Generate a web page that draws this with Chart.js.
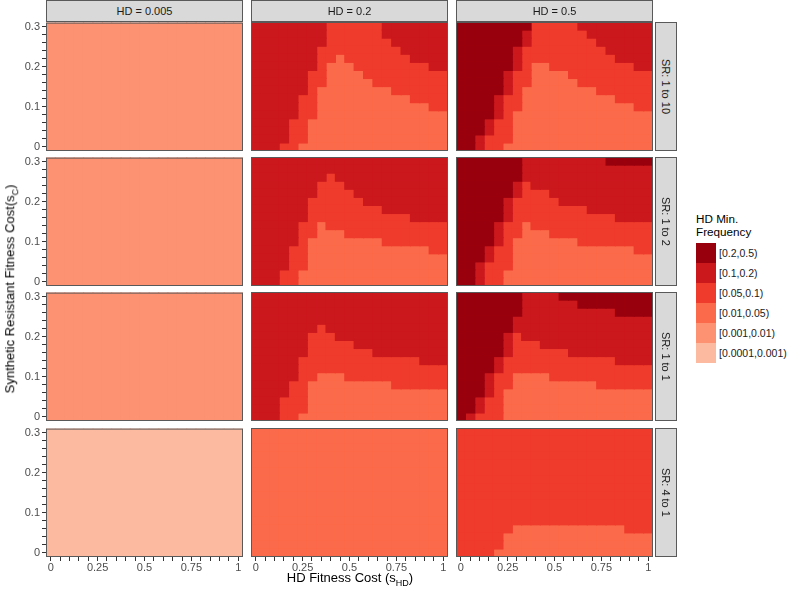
<!DOCTYPE html>
<html>
<head>
<meta charset="utf-8">
<script src="https://cdn.jsdelivr.net/npm/chart.js@4/dist/chart.umd.min.js"></script>
<style>
  body { margin: 0; background: #fff; }
  #stage { position: relative; width: 787px; height: 593px; overflow: hidden; font-family: "Liberation Sans", Arial, sans-serif; }
  #stage canvas { position: absolute; }
  .strip { position: absolute; box-sizing: border-box; background: #d9d9d9; border: 1px solid #595959;
           font-size: 11px; color: #1a1a1a; display: flex; align-items: center; justify-content: center;
           white-space: nowrap; z-index: 2; }
  .strip.side { writing-mode: vertical-rl; }
  .title { position: absolute; font-size: 13px; color: #000; white-space: nowrap; z-index: 2; }
  .title sub { font-size: 9px; }
  #legend { position: absolute; left: 696px; top: 212px; z-index: 2; }
  #legend .lt { font-size: 11.7px; line-height: 13px; margin-bottom: 5px; }
  #legend .row { display: flex; align-items: center; height: 20px; }
  #legend .key { width: 20px; height: 20px; margin-right: 3px; }
  #legend .lab { font-size: 10.5px; color: #1a1a1a; white-space: nowrap; }
</style>
</head>
<body>
<div id="stage"></div>
<script>
// facet labels
const hdCols = ['HD = 0.005', 'HD = 0.2', 'HD = 0.5'];
const srRows = ['SR: 1 to 10', 'SR: 1 to 2', 'SR: 1 to 1', 'SR: 4 to 1'];

// HD min. frequency classes and their fill colours
const levels = ['[0.2,0.5)', '[0.1,0.2)', '[0.05,0.1)', '[0.01,0.05)', '[0.001,0.01)', '[0.0001,0.001)'];
const levelColors = ['#99000d', '#cb181d', '#ef3b2c', '#fb6a4a', '#fc9272', '#fcbba1'];

// grid values: s_HD along x, s_C along y
const xLabels = ['0', '0.05', '0.1', '0.15', '0.2', '0.25', '0.3', '0.35', '0.4', '0.45', '0.5',
                 '0.55', '0.6', '0.65', '0.7', '0.75', '0.8', '0.85', '0.9', '0.95', '1'];
const xTickText = ['0', '', '', '', '', '0.25', '', '', '', '', '0.5', '', '', '', '', '0.75', '', '', '', '', '1'];
const yVals = [0, 0.02, 0.04, 0.06, 0.08, 0.1, 0.12, 0.14, 0.16, 0.18, 0.2, 0.22, 0.24, 0.26, 0.28, 0.3];
const yTickText = ['0', '', '', '', '', '0.1', '', '', '', '', '0.2', '', '', '', '', '0.3'];

// class index per cell (digit = index into levels); rows listed top (s_C = 0.3) to bottom (s_C = 0)
const hd0005_sr10 = Array(16).fill('444444444444444444444');
const hd0005_sr2  = Array(16).fill('444444444444444444444');
const hd0005_sr1  = Array(16).fill('444444444444444444444');
const hd0005_sr4  = Array(16).fill('555555555555555555555');

const hd02_sr10 = [
  '111111112222221111111',
  '111111112222221111111',
  '111111112222222111111',
  '111111122222222211111',
  '111111122322222221111',
  '111111123332222222211',
  '111111223333222222222',
  '111111223333322222222',
  '111111233333333222222',
  '111112233333333332222',
  '111112233333333333322',
  '111112233333333333333',
  '111122333333333333333',
  '111122333333333333333',
  '111122333333333333333',
  '111223333333333333333'
];
const hd05_sr10 = [
  '000000002222211111111',
  '000000012222221111111',
  '000000012222222111111',
  '000000122222222211111',
  '000000122222222221111',
  '000000123322222222211',
  '000001223333222222222',
  '000001223333322222222',
  '000001233333333222222',
  '000012233333333332222',
  '000012233333333333322',
  '000012333333333333333',
  '000122333333333333333',
  '000122333333333333333',
  '001222333333333333333',
  '001223333333333333333'
];
const hd02_sr2 = [
  '111111111111111111111',
  '111111111111111111111',
  '111111112111111111111',
  '111111122211111111111',
  '111111122221111111111',
  '111111222222111111111',
  '111111222222221111111',
  '111111222222222221111',
  '111112232222222222222',
  '111112233322222222222',
  '111112333333332222222',
  '111122333333333333322',
  '111122333333333333333',
  '111122333333333333333',
  '111223333333333333333',
  '111223333333333333333'
];
const hd05_sr2 = [
  '000000011111111100000',
  '000000011111111111111',
  '000000011111111111111',
  '000000121111111111111',
  '000000122211111111111',
  '000001222221111111111',
  '000001222222221111111',
  '000001222222222221111',
  '000012232222222222222',
  '000012233322222222222',
  '000012333333322222222',
  '000122333333333333322',
  '000122333333333333333',
  '001222333333333333333',
  '001223333333333333333',
  '001223333333333333333'
];
const hd02_sr1 = [
  '111111111111111111111',
  '111111111111111111111',
  '111111111111111111111',
  '111111111111111111111',
  '111111121111111111111',
  '111111222111111111111',
  '111111222221111111111',
  '111111222222211111111',
  '111112222222222222111',
  '111112222222222222222',
  '111112233322222222222',
  '111122333333333222222',
  '111122333333333333333',
  '111222333333333333333',
  '111222333333333333333',
  '111223333333333333333'
];
const hd05_sr1 = [
  '000000011110000000000',
  '000000011111100000000',
  '000000011111111110000',
  '000000111111111111111',
  '000000111111111111111',
  '000001211111111111111',
  '000001222111111111111',
  '000001222222111111111',
  '000012222222222221111',
  '000012222222222222222',
  '000122333322222222222',
  '000122333333333222222',
  '000123333333333333333',
  '001223333333333333333',
  '001223333333333333333',
  '012223333333333333333'
];
const hd02_sr4 = Array(16).fill('333333333333333333333');
const hd05_sr4 = [
  '222222222222222222222',
  '222222222222222222222',
  '222222222222222222222',
  '222222222222222222222',
  '222222222222222222222',
  '222222222222222222222',
  '222222222222222222222',
  '222222222222222222222',
  '222222222222222222222',
  '222222222222222222222',
  '222222222222222222222',
  '222222222222222222222',
  '222222333333333333222',
  '222223333333333333333',
  '222223333333333333333',
  '222233333333333333333'
];

const panels = [
  [hd0005_sr10, hd02_sr10, hd05_sr10],
  [hd0005_sr2,  hd02_sr2,  hd05_sr2],
  [hd0005_sr1,  hd02_sr1,  hd05_sr1],
  [hd0005_sr4,  hd02_sr4,  hd05_sr4]
];

// layout of the facet grid
const panelLefts = [46, 251, 456];
const panelTops = [22, 157, 292, 428];
const panelW = 197, panelH = 129;
const L = 46, T = 8, R = 8, B = 26;

const stage = document.getElementById('stage');
const tickFont = { family: '"Liberation Sans", Arial, sans-serif', size: 11 };

const panelBorder = {
  id: 'panelBorder',
  afterDatasetsDraw(chart) {
    const { ctx, chartArea: a } = chart;
    ctx.save();
    ctx.strokeStyle = '#595959';
    ctx.lineWidth = 1;
    ctx.strokeRect(a.left + 0.5, a.top + 0.5, a.width - 1, a.height - 1);
    ctx.restore();
  }
};

function makePanel(grid, left, top, showX, showY) {
  const canvas = document.createElement('canvas');
  canvas.width = panelW + L + R;
  canvas.height = panelH + T + B;
  canvas.style.left = (left - L) + 'px';
  canvas.style.top = (top - T) + 'px';
  stage.appendChild(canvas);

  const datasets = levels.map((lab, c) => ({
    label: lab,
    data: [],
    backgroundColor: levelColors[c],
    borderWidth: 0,
    inflateAmount: 0.6
  }));
  grid.forEach((row, r) => {
    const y = yVals[yVals.length - 1 - r];
    for (let i = 0; i < row.length; i++) {
      datasets[+row[i]].data.push({ x: xLabels[i], y: [y - 0.01, y + 0.01] });
    }
  });

  new Chart(canvas, {
    type: 'bar',
    data: { labels: xLabels, datasets: datasets },
    options: {
      responsive: false,
      animation: false,
      layout: { padding: { left: showY ? 0 : L, top: T, right: R, bottom: showX ? 0 : B } },
      datasets: { bar: { grouped: false, barPercentage: 1, categoryPercentage: 1 } },
      plugins: { legend: { display: false }, tooltip: { enabled: false } },
      scales: {
        x: {
          display: showX,
          offset: true,
          border: { display: false },
          grid: { offset: false, drawOnChartArea: false, color: '#333333', tickLength: 4 },
          ticks: { autoSkip: false, maxRotation: 0, padding: 0, color: '#4d4d4d', font: tickFont,
                   callback: (v, i) => xTickText[i] },
          afterFit: s => { if (showX) s.height = B; }
        },
        y: {
          display: showY,
          min: -0.01,
          max: 0.31,
          afterBuildTicks: s => { s.ticks = yVals.map(v => ({ value: v })); },
          border: { display: false },
          grid: { drawOnChartArea: false, color: '#333333', tickLength: 4 },
          ticks: { autoSkip: false, padding: 2, color: '#4d4d4d', font: tickFont,
                   callback: (v, i) => yTickText[i] },
          afterFit: s => { if (showY) s.width = L; }
        }
      }
    },
    plugins: [panelBorder]
  });
}

panels.forEach((rowPanels, r) => {
  rowPanels.forEach((grid, c) => {
    makePanel(grid, panelLefts[c], panelTops[r], r === panels.length - 1, c === 0);
  });
});

// facet strips
hdCols.forEach((txt, c) => {
  const d = document.createElement('div');
  d.className = 'strip';
  d.style.left = panelLefts[c] + 'px';
  d.style.top = '0px';
  d.style.width = panelW + 'px';
  d.style.height = '22px';
  d.textContent = txt;
  stage.appendChild(d);
});
srRows.forEach((txt, r) => {
  const d = document.createElement('div');
  d.className = 'strip side';
  d.style.left = '655px';
  d.style.top = panelTops[r] + 'px';
  d.style.width = '22px';
  d.style.height = panelH + 'px';
  d.textContent = txt;
  stage.appendChild(d);
});

// axis titles
const xt = document.createElement('div');
xt.className = 'title';
xt.innerHTML = 'HD Fitness Cost (s<sub>HD</sub>)';
xt.style.left = '350px';
xt.style.top = '579px';
xt.style.transform = 'translate(-50%, -50%)';
stage.appendChild(xt);

const yt = document.createElement('div');
yt.className = 'title';
yt.innerHTML = 'Synthetic Resistant Fitness Cost(s<sub>C</sub>)';
yt.style.left = '11px';
yt.style.top = '289px';
yt.style.transform = 'translate(-50%, -50%) rotate(-90deg)';
stage.appendChild(yt);

// legend
const lg = document.createElement('div');
lg.id = 'legend';
lg.innerHTML = '<div class="lt">HD Min.<br>Frequency</div>' +
  levels.map((lab, i) => '<div class="row"><div class="key" style="background:' + levelColors[i] +
    '"></div><span class="lab">' + lab + '</span></div>').join('');
stage.appendChild(lg);
</script>
</body>
</html>
